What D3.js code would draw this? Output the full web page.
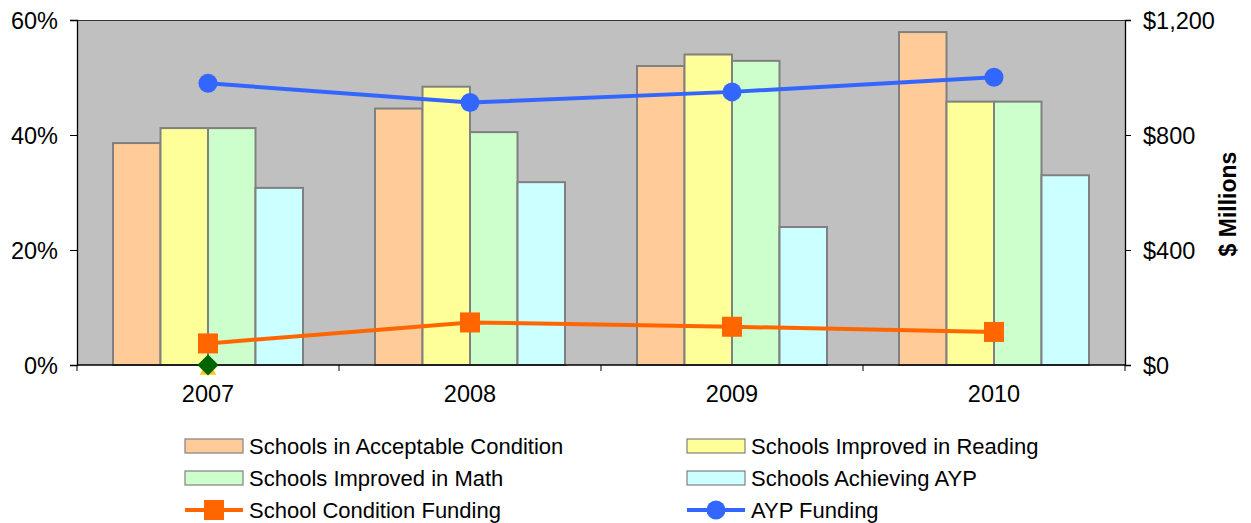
<!DOCTYPE html>
<html><head><meta charset="utf-8">
<script src="https://cdn.jsdelivr.net/npm/d3@7"></script>
<style>body{margin:0;background:#fff;font-family:Arial,"Liberation Sans",sans-serif}</style>
</head><body><svg id="c" width="1251" height="523"></svg>
<script>
const years = ["2007","2008","2009","2010"];
const barSeries = ["Schools in Acceptable Condition","Schools Improved in Reading","Schools Improved in Math","Schools Achieving AYP"];
const acceptable = [38.6, 44.6, 52.0, 57.9];
const reading = [41.2, 48.4, 54.0, 45.8];
const math = [41.2, 40.5, 52.9, 45.8];
const ayp = [30.8, 31.8, 24.0, 33.0];
const conditionFunding = [75, 148, 133, 115];
const aypFunding = [980, 913, 950, 1001];
const hiddenDiamond = [0];
const hiddenTriangle = [0];
const leftTicks = [0, 20, 40, 60];
const rightTicks = [0, 400, 800, 1200];
const barColors = ["#FFCC99","#FFFF99","#CCFFCC","#CCFFFF"];

const svg = d3.select("#c");
const L = 77, R = 1125, T = 20, B = 365;
const x = d3.scaleBand().domain(years).range([L, R]).paddingInner(0).paddingOuter(0);
const xs = d3.scaleBand().domain(d3.range(4)).range([0, 190]);
const yL = d3.scaleLinear().domain([0, 60]).range([B, T]);
const yR = d3.scaleLinear().domain([0, 1200]).range([B, T]);

svg.append("rect").attr("x", L).attr("y", T).attr("width", R - L).attr("height", B - T).attr("fill", "#C0C0C0");
svg.append("line").attr("x1", L).attr("x2", R).attr("y1", T + 0.5).attr("y2", T + 0.5).attr("stroke", "#333").attr("stroke-width", 1);

const barData = [acceptable, reading, math, ayp];
years.forEach((yr, i) => {
  const cx = x(yr) + x.bandwidth() / 2 - 95;
  barData.forEach((arr, s) => {
    svg.append("rect")
      .attr("x", cx + xs(s)).attr("y", yL(arr[i]))
      .attr("width", xs.bandwidth()).attr("height", B - yL(arr[i]))
      .attr("fill", barColors[s]).attr("stroke", "#808080").attr("stroke-width", 2);
  });
});

// axes
const fontTick = "23.5px";
const gl = svg.append("g").attr("transform", `translate(${L},0)`)
  .call(d3.axisLeft(yL).tickValues(leftTicks).tickFormat(d => d + "%").tickSize(7).tickPadding(12));
const gr = svg.append("g").attr("transform", `translate(${R},0)`)
  .call(d3.axisRight(yR).tickValues(rightTicks).tickFormat(d => "$" + d3.format(",")(d)).tickSize(6).tickPadding(12));
const gb = svg.append("g").attr("transform", `translate(0,${B})`)
  .call(d3.axisBottom(x).tickSize(0).tickPadding(20));
[gl, gr, gb].forEach(g => {
  g.selectAll("text").attr("font-size", fontTick).attr("font-family", "Arial, 'Liberation Sans', sans-serif").attr("fill", "#000");
  g.selectAll("line").attr("stroke", "#000");
  g.select(".domain").attr("stroke", "#000").attr("stroke-width", 1.3);
});
gl.selectAll(".tick text").attr("dy", "0.36em");
gr.selectAll(".tick text").attr("dy", "0.36em");
// category boundary ticks
svg.append("g").selectAll("line").data(d3.range(5)).join("line")
  .attr("x1", i => L + i * x.bandwidth()).attr("x2", i => L + i * x.bandwidth())
  .attr("y1", B).attr("y2", B + 6).attr("stroke", "#000");
gb.select(".domain").remove();
svg.append("line").attr("x1", L).attr("x2", R).attr("y1", B).attr("y2", B).attr("stroke", "#000").attr("stroke-width", 1.3);

svg.append("text").attr("transform", `translate(1236,204) rotate(-90)`)
  .attr("text-anchor", "middle").attr("font-size", "23px").attr("font-weight", "bold").text("$ Millions");

const cxOf = yr => x(yr) + x.bandwidth() / 2;
// hidden series markers
svg.append("path").attr("d", d3.symbol(d3.symbolTriangle, 120)())
  .attr("transform", `translate(${cxOf(years[0])},${yL(hiddenTriangle[0]) + 5})`).attr("fill", "#FFCC00");
svg.append("rect").attr("x", -7.5).attr("y", -7.5).attr("width", 15).attr("height", 15)
  .attr("transform", `translate(${cxOf(years[0])},${yL(hiddenDiamond[0])}) rotate(45)`).attr("fill", "#006400");

const line = d3.line().x((d, i) => cxOf(years[i])).y(d => yR(d));
svg.append("path").datum(conditionFunding).attr("d", line).attr("fill", "none").attr("stroke", "#FF6600").attr("stroke-width", 4);
svg.selectAll(".sq").data(conditionFunding).join("rect")
  .attr("x", (d, i) => cxOf(years[i]) - 10).attr("y", d => yR(d) - 10).attr("width", 20).attr("height", 20).attr("fill", "#FF6600");
svg.append("path").datum(aypFunding).attr("d", line).attr("fill", "none").attr("stroke", "#3366FF").attr("stroke-width", 4);
svg.selectAll(".ci").data(aypFunding).join("circle")
  .attr("cx", (d, i) => cxOf(years[i])).attr("cy", d => yR(d)).attr("r", 9.5).attr("fill", "#3366FF");

// legend
const legendItems = [
  {name: barSeries[0], type: "bar", color: barColors[0], col: 0, row: 0},
  {name: barSeries[1], type: "bar", color: barColors[1], col: 1, row: 0},
  {name: barSeries[2], type: "bar", color: barColors[2], col: 0, row: 1},
  {name: barSeries[3], type: "bar", color: barColors[3], col: 1, row: 1},
  {name: "School Condition Funding", type: "sq", color: "#FF6600", col: 0, row: 2},
  {name: "AYP Funding", type: "ci", color: "#3366FF", col: 1, row: 2}
];
const colX = [185, 687], rowY = [446, 478, 510];
legendItems.forEach(it => {
  const g = svg.append("g").attr("transform", `translate(${colX[it.col]},${rowY[it.row]})`);
  if (it.type === "bar") {
    g.append("rect").attr("x", 0).attr("y", -7).attr("width", 58).attr("height", 14).attr("fill", it.color).attr("stroke", "#808080").attr("stroke-width", 1.2);
  } else {
    g.append("line").attr("x1", 0).attr("x2", 58).attr("y1", 0).attr("y2", 0).attr("stroke", it.color).attr("stroke-width", 4);
    if (it.type === "sq") g.append("rect").attr("x", 19).attr("y", -10).attr("width", 20).attr("height", 20).attr("fill", it.color);
    else g.append("circle").attr("cx", 29).attr("cy", 0).attr("r", 9.5).attr("fill", it.color);
  }
  g.append("text").attr("x", 64).attr("y", 0).attr("dy", "0.36em").attr("font-size", "22px").attr("fill", "#000").text(it.name);
});
</script></body></html>
